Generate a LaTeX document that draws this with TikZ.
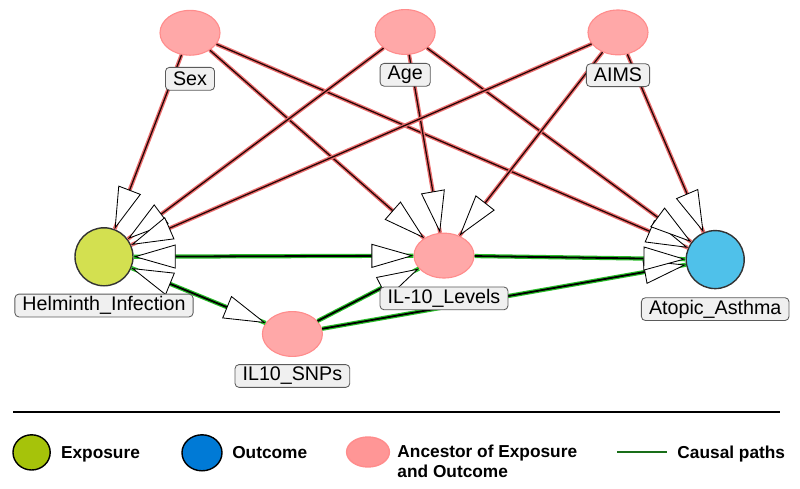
\documentclass[tikz,border=0pt]{standalone}
\usepackage{fontspec}
\setmainfont{Liberation Sans}
\usetikzlibrary{positioning, arrows.meta, shapes.geometric}

\definecolor{helmfill}{RGB}{211,224,80}
\definecolor{asthfill}{RGB}{79,193,234}
\definecolor{ancfill}{RGB}{255,168,168}
\definecolor{ancdraw}{RGB}{255,140,140}
\definecolor{lblfill}{RGB}{240,240,240}
\definecolor{lbldraw}{RGB}{90,90,90}
\definecolor{redhalo}{RGB}{235,110,110}
\definecolor{redcore}{RGB}{35,5,5}
\definecolor{greenhalo}{RGB}{40,190,40}
\definecolor{legexp}{RGB}{166,195,10}
\definecolor{legout}{RGB}{0,122,214}
\definecolor{leganc}{RGB}{255,150,150}
\definecolor{leggreen}{RGB}{25,110,25}

\begin{document}
\begin{tikzpicture}[
        opentri/.tip = {Triangle[length = 1.05cm, width = 0.6cm, fill = white, line width = 0.6pt, color = black]},
        ancnode/.style = {ellipse, minimum width = 1.5cm, minimum height = 1.12cm, inner sep = 0,
            fill = ancfill, draw = ancdraw, line width = 0.8pt},
        expnode/.style = {circle, minimum size = 1.45cm, inner sep = 0, fill = helmfill,
            draw = black!80, line width = 1pt},
        outnode/.style = {expnode, fill = asthfill},
        lbl/.style = {rectangle, rounded corners = 1mm, fill = lblfill, draw = lbldraw,
            line width = 0.6pt, inner xsep = 0.19cm, inner ysep = 0, minimum height = 0.57cm,
            font = \fontsize{14pt}{16pt}\selectfont},
        biasedge/.style = {draw = redcore, line width = 0.9pt,
            preaction = {draw = redhalo, line width = 2.8pt, arrows = -}},
        causaledge/.style = {draw = black, line width = 1.3pt,
            preaction = {draw = greenhalo, line width = 3pt, arrows = -}},
        legdot/.style = {ellipse, inner sep = 0, draw = black, line width = 1pt},
        legtext/.style = {inner sep = 0, anchor = base west,
            font = \bfseries\fontsize{12.3pt}{14.2pt}\selectfont}
    ]
        \useasboundingbox ( 0, 0 ) rectangle ( 20, 12.2 );

        % узлы
        \node [ancnode] (sex) at ( 4.75, 11.38 ) {};
        \node [ancnode] (age) at ( 10.13, 11.4 ) {};
        \node [ancnode] (aims) at ( 15.45, 11.39 ) {};
        \node [expnode] (helm) at ( 2.6, 5.78 ) {};
        \node [ancnode] (ilev) at ( 11.1, 5.81 ) {};
        \node [outnode] (asthma) at ( 17.88, 5.71 ) {};
        \node [ancnode] (snps) at ( 7.31, 3.85 ) {};

        % смещающие пути
        \draw [biasedge, -opentri] (sex) -- (helm);
        \draw [biasedge, -opentri] (sex) -- (ilev);
        \draw [biasedge, -opentri] (sex) -- (asthma);
        \draw [biasedge, -opentri] (age) -- (helm);
        \draw [biasedge, -opentri] (age) -- (ilev);
        \draw [biasedge, -opentri] (age) -- (asthma);
        \draw [biasedge, -opentri] (aims) -- (helm);
        \draw [biasedge, -opentri] (aims) -- (ilev);
        \draw [biasedge, -opentri] (aims) -- (asthma);

        % причинные пути
        \draw [causaledge, opentri-opentri] (helm) -- (ilev);
        \draw [causaledge, opentri-opentri] (helm) -- (snps);
        \draw [causaledge, -opentri] (snps) -- (ilev);
        \draw [causaledge, -opentri] (snps) -- (asthma);
        \draw [causaledge, -opentri] (ilev) -- (asthma);

        % подписи
        \node [lbl, below = 0.28cm of sex] (sexlbl) {Sex};
        \node [lbl, below = 0.2cm of age] (agelbl) {Age};
        \node [lbl, below = 0.2cm of aims] (aimslbl) {AIMS};
        \node [lbl, below = 0.18cm of helm] (helmlbl) {Helminth\_Infection};
        \node [lbl, below = 0.2cm of ilev] (ilevlbl) {IL-10\_Levels};
        \node [lbl, below = 0.2cm of asthma] (asthmalbl) {Atopic\_Asthma};
        \node [lbl, below = 0.18cm of snps] (snpslbl) {IL10\_SNPs};

        % легенда
        \draw [line width = 2pt] ( 0.33, 1.9 ) -- ( 19.5, 1.9 );
        \node [legdot, fill = legexp, minimum width = 0.93cm, minimum height = 0.88cm] (legexp) at ( 0.79, 0.89 ) {};
        \node [legtext] (legexptext) at ( 1.52, 0.75 ) {Exposure};
        \node [legdot, fill = legout, minimum width = 1cm, minimum height = 0.9cm] (legout) at ( 5.05, 0.88 ) {};
        \node [legtext] (legouttext) at ( 5.8, 0.75 ) {Outcome};
        \node [legdot, fill = leganc, draw = ancdraw, minimum width = 1.07cm, minimum height = 0.75cm] (leganc) at ( 9.2, 0.9 ) {};
        \node [legtext, anchor = north west, align = left] (legametext) at ( 9.93, 1.09 ) {Ancestor of Exposure\\and Outcome};
        \draw [draw = leggreen, line width = 1.4pt] ( 15.43, 0.9 ) -- ( 16.68, 0.9 );
        \node [legtext] (legcausaltext) at ( 16.93, 0.75 ) {Causal paths};
    \end{tikzpicture}
\end{document}
